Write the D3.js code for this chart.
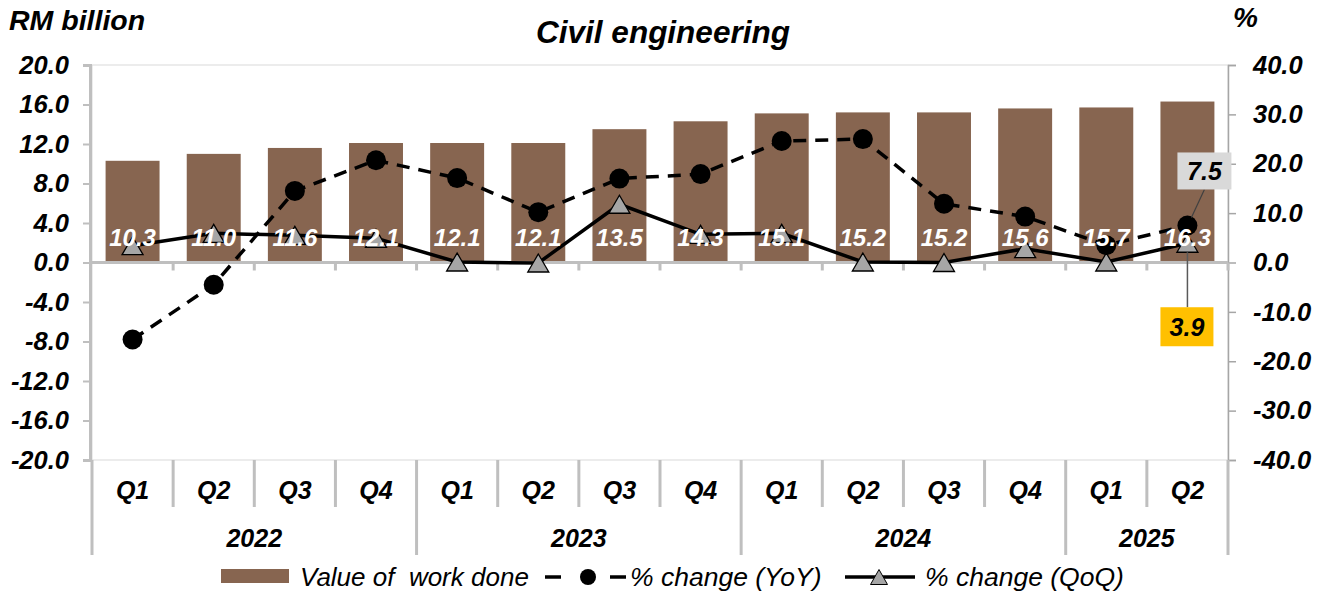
<!DOCTYPE html>
<html>
<head>
<meta charset="utf-8">
<script src="https://cdn.jsdelivr.net/npm/d3@7"></script>
<style>
  html, body { margin: 0; padding: 0; background: #fff; }
  svg { display: block; font-family: "Liberation Sans", Arial, sans-serif; }
  .bi { font-weight: bold; font-style: italic; }
  .pre { white-space: pre; }
</style>
</head>
<body>
<svg id="chart" width="1333" height="592"></svg>
<script>
// ---------- data ----------
const quarters = ["Q1","Q2","Q3","Q4","Q1","Q2","Q3","Q4","Q1","Q2","Q3","Q4","Q1","Q2"];
const yearLabels = ["2022","2023","2024","2025"];
const yearSpans = [4, 4, 4, 2];
const valueOfWork = [10.3, 11.0, 11.6, 12.1, 12.1, 12.1, 13.5, 14.3, 15.1, 15.2, 15.2, 15.6, 15.7, 16.3];
const yoyChange = [-15.6, -4.5, 14.5, 20.7, 17.1, 10.2, 17.0, 17.9, 24.6, 25.0, 11.9, 9.3, 3.5, 7.5];
const qoqChange = [3.4, 5.9, 5.5, 4.9, 0.1, -0.1, 11.8, 5.7, 5.9, 0.1, 0.0, 2.8, 0.1, 3.9];
const leftTicks = [-20, -16, -12, -8, -4, 0, 4, 8, 12, 16, 20];
const rightTicks = [-40, -30, -20, -10, 0, 10, 20, 30, 40];
const legendLabels = ["Value of  work done", "% change (YoY)", "% change (QoQ)"];

// ---------- layout ----------
const svg = d3.select("#chart");
const L = 92, R = 1228, T = 65, B = 460;
const idx = d3.range(quarters.length);
const x = d3.scaleBand().domain(idx).range([L, R]).padding(0);
const yL = d3.scaleLinear().domain([-20, 20]).range([B, T]);
const yR = d3.scaleLinear().domain([-40, 40]).range([B, T]);
const barW = x.bandwidth() * 0.665;
const cx = i => x(i) + x.bandwidth() / 2;
const axisGrey = "#BFBFBF";

// plot area border
svg.append("rect").attr("x", L).attr("y", T).attr("width", R - L).attr("height", B - T)
  .attr("fill", "none").attr("stroke", "#D9D9D9").attr("stroke-width", 1);

// bars
svg.append("g").selectAll("rect").data(valueOfWork).join("rect")
  .attr("x", (d, i) => cx(i) - barW / 2)
  .attr("y", d => yL(d))
  .attr("width", barW)
  .attr("height", d => yL(0) - yL(d))
  .attr("fill", "#876550");

// left axis
const gL = svg.append("g").attr("transform", `translate(${L - 2},0)`)
  .call(d3.axisLeft(yL).tickValues(leftTicks).tickFormat(d => d.toFixed(1)).tickSize(7).tickPadding(14));
gL.select(".domain").attr("stroke", axisGrey).attr("stroke-width", 3);
gL.selectAll(".tick line").attr("stroke", axisGrey).attr("stroke-width", 2);
gL.selectAll(".tick text").attr("class", "bi").attr("font-size", 25.5).attr("fill", "#000");

// right axis
const gR = svg.append("g").attr("transform", `translate(${R},0)`)
  .call(d3.axisRight(yR).tickValues(rightTicks).tickFormat(d => d.toFixed(1)).tickSize(8).tickPadding(17));
gR.select(".domain").attr("stroke", "#A6A6A6").attr("stroke-width", 1.5);
gR.selectAll(".tick line").attr("stroke", "#A6A6A6").attr("stroke-width", 1.5);
gR.selectAll(".tick text").attr("class", "bi").attr("font-size", 25.5).attr("fill", "#000");

// zero line with category ticks
svg.append("line").attr("x1", L).attr("x2", R).attr("y1", yL(0)).attr("y2", yL(0))
  .attr("stroke", axisGrey).attr("stroke-width", 3);
svg.append("g").selectAll("line").data(d3.range(1, quarters.length + 1)).join("line")
  .attr("x1", i => i < quarters.length ? x(i) : R).attr("x2", i => i < quarters.length ? x(i) : R)
  .attr("y1", yL(0)).attr("y2", yL(0) + 8)
  .attr("stroke", axisGrey).attr("stroke-width", 3);

// category axis (quarters)
const gX = svg.append("g").attr("transform", `translate(0,${B})`)
  .call(d3.axisBottom(x).tickFormat(i => quarters[i]).tickSize(0).tickPadding(21));
gX.select(".domain").remove();
gX.selectAll(".tick text").attr("class", "bi").attr("font-size", 25).attr("fill", "#000");

// separators
const yearStarts = yearSpans.map((s, k) => d3.sum(yearSpans.slice(0, k)));
const bounds = d3.range(quarters.length + 1);
svg.append("g").selectAll("line").data(bounds).join("line")
  .attr("x1", i => i < quarters.length ? x(i) : R).attr("x2", i => i < quarters.length ? x(i) : R)
  .attr("y1", B)
  .attr("y2", i => (yearStarts.includes(i) || i === quarters.length) ? 555 : 507)
  .attr("stroke", axisGrey).attr("stroke-width", 3);

// year labels
svg.append("g").selectAll("text").data(yearLabels).join("text")
  .attr("class", "bi").attr("font-size", 25).attr("text-anchor", "middle")
  .attr("x", (d, k) => {
    const a = x(yearStarts[k]);
    const e = yearStarts[k] + yearSpans[k];
    const b = e < quarters.length ? x(e) : R;
    return (a + b) / 2;
  })
  .attr("y", 547).text(d => d);

// YoY line
const lineYoY = d3.line().x((d, i) => cx(i)).y(d => yR(d));
svg.append("path").datum(yoyChange).attr("d", lineYoY)
  .attr("fill", "none").attr("stroke", "#000").attr("stroke-width", 3.5)
  .attr("stroke-dasharray", "13,9");
svg.append("g").selectAll("circle").data(yoyChange).join("circle")
  .attr("cx", (d, i) => cx(i)).attr("cy", d => yR(d)).attr("r", 10).attr("fill", "#000");

// QoQ line
const lineQoQ = d3.line().x((d, i) => cx(i)).y(d => yR(d));
svg.append("path").datum(qoqChange).attr("d", lineQoQ)
  .attr("fill", "none").attr("stroke", "#000").attr("stroke-width", 3.5);
const tri = (px, py, w, h) => `M${px},${py - h / 2}L${px + w / 2},${py + h / 2}L${px - w / 2},${py + h / 2}Z`;
svg.append("g").selectAll("path").data(qoqChange).join("path")
  .attr("d", (d, i) => tri(cx(i), yR(d), 21, 18))
  .attr("fill", "#A6A6A6").attr("stroke", "#000").attr("stroke-width", 1.3);

// bar labels
svg.append("g").selectAll("text").data(valueOfWork).join("text")
  .attr("class", "bi").attr("font-size", 24).attr("fill", "#fff").attr("text-anchor", "middle")
  .attr("x", (d, i) => cx(i)).attr("y", yL(0) - 17).text(d => d.toFixed(1));

// callouts for last point
const last = quarters.length - 1;
const pYoY = [cx(last), yR(yoyChange[last])];
const pQoQ = [cx(last), yR(qoqChange[last])];
const box1 = { x: pYoY[0] - 10, y: pYoY[1] - 73, w: 54, h: 37 };
svg.append("line").attr("x1", pYoY[0] + 4).attr("y1", pYoY[1] - 8)
  .attr("x2", box1.x + box1.w / 2).attr("y2", box1.y + box1.h)
  .attr("stroke", "#404040").attr("stroke-width", 1.2);
svg.append("rect").attr("x", box1.x).attr("y", box1.y).attr("width", box1.w).attr("height", box1.h).attr("fill", "#D9D9D9");
svg.append("text").attr("class", "bi").attr("font-size", 25).attr("text-anchor", "middle")
  .attr("x", box1.x + box1.w / 2).attr("y", box1.y + 28).text(yoyChange[last].toFixed(1));

const box2 = { x: pQoQ[0] - 27, y: pQoQ[1] + 64, w: 53, h: 39 };
svg.append("line").attr("x1", pQoQ[0]).attr("y1", pQoQ[1] + 9)
  .attr("x2", pQoQ[0]).attr("y2", box2.y)
  .attr("stroke", "#595959").attr("stroke-width", 1.5);
svg.append("rect").attr("x", box2.x).attr("y", box2.y).attr("width", box2.w).attr("height", box2.h).attr("fill", "#FFC000");
svg.append("text").attr("class", "bi").attr("font-size", 25).attr("text-anchor", "middle")
  .attr("x", box2.x + box2.w / 2).attr("y", box2.y + 29).text(qoqChange[last].toFixed(1));

// titles
svg.append("text").attr("class", "bi").attr("font-size", 31.5).attr("text-anchor", "middle")
  .attr("x", 663).attr("y", 43).text("Civil engineering");
svg.append("text").attr("class", "bi").attr("font-size", 28.5).attr("x", 9).attr("y", 30).text("RM billion");
svg.append("text").attr("class", "bi").attr("font-size", 28).attr("x", 1233).attr("y", 27).text("%");

// legend
const lg = svg.append("g");
const ly = 577;
lg.append("rect").attr("x", 221).attr("y", 569).attr("width", 68).attr("height", 14).attr("fill", "#876550");
lg.append("text").attr("class", "pre").attr("font-style", "italic").attr("font-size", 26).attr("x", 300).attr("y", ly + 9).text(legendLabels[0]);
lg.append("line").attr("x1", 545).attr("x2", 561).attr("y1", ly).attr("y2", ly).attr("stroke", "#000").attr("stroke-width", 3.5);
lg.append("line").attr("x1", 610).attr("x2", 626).attr("y1", ly).attr("y2", ly).attr("stroke", "#000").attr("stroke-width", 3.5);
lg.append("circle").attr("cx", 588).attr("cy", ly).attr("r", 8).attr("fill", "#000");
lg.append("text").attr("font-style", "italic").attr("font-size", 26.5).attr("x", 630).attr("y", ly + 9).text(legendLabels[1]);
lg.append("line").attr("x1", 845).attr("x2", 915).attr("y1", ly).attr("y2", ly).attr("stroke", "#000").attr("stroke-width", 3.5);
lg.append("path").attr("d", tri(879, ly, 17, 15)).attr("fill", "#A6A6A6").attr("stroke", "#000").attr("stroke-width", 1);
lg.append("text").attr("font-style", "italic").attr("font-size", 26.5).attr("x", 925).attr("y", ly + 9).text(legendLabels[2]);
</script>
</body>
</html>
